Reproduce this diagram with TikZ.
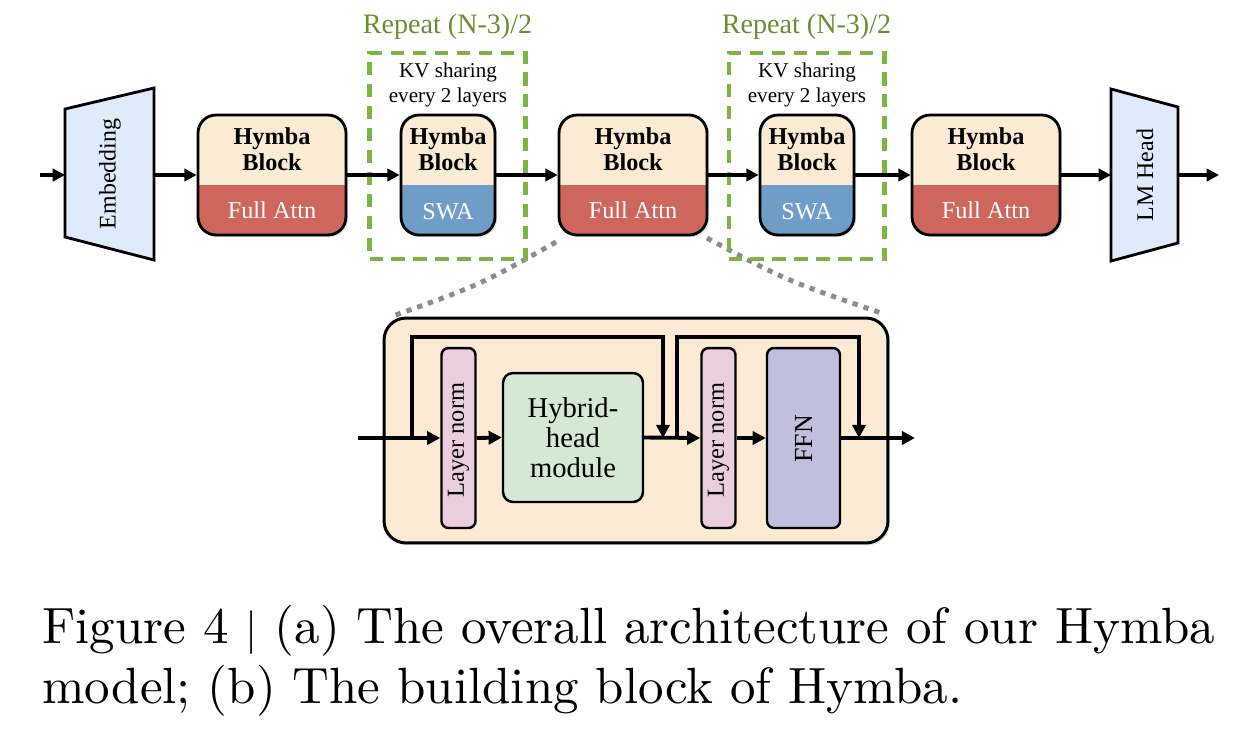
\documentclass[tikz,border=0pt]{standalone}
\usepackage{fontspec}
\newfontfamily\tnr{Liberation Serif}
\newfontfamily\capfont{lmroman10-regular.otf}
\usetikzlibrary{arrows.meta,shadows}
\definecolor{cream}{RGB}{251,235,213}
\definecolor{attred}{RGB}{206,102,94}
\definecolor{swablue}{RGB}{110,158,200}
\definecolor{embblue}{RGB}{223,234,251}
\definecolor{dgreen}{RGB}{122,182,64}
\definecolor{tgreen}{RGB}{112,140,48}
\definecolor{lnpink}{RGB}{234,205,222}
\definecolor{hhgreen}{RGB}{213,232,212}
\definecolor{ffnlav}{RGB}{194,190,221}
\definecolor{zgray}{RGB}{140,140,140}
\tikzset{
  arr/.style={line width=1.9pt,-{Triangle[length=7pt,width=7pt]}},
  parr/.style={line width=2.2pt,-{Triangle[length=7.5pt,width=7.5pt]}},
  hblock/.style={draw=black,line width=1.6pt,fill=cream,rounded corners=0.36cm,
    minimum height=2.4cm,inner sep=0pt,
    drop shadow={opacity=0.25,shadow xshift=1.2pt,shadow yshift=-1.2pt}},
  wideblk/.style={minimum width=2.96cm},
  narrowblk/.style={minimum width=1.88cm},
  fullpart/.style={path picture={\fill[attred,sharp corners] (path picture bounding box.south west) rectangle ([yshift=1cm]path picture bounding box.south east);}},
  swapart/.style={path picture={\fill[swablue,sharp corners] (path picture bounding box.south west) rectangle ([yshift=1cm]path picture bounding box.south east);}},
  btitle/.style={font=\tnr\bfseries\fontsize{13.8}{14.7}\selectfont,align=center,inner sep=0pt},
  blabel/.style={font=\tnr\fontsize{13.8}{15}\selectfont,text=white,inner sep=0pt},
  trap/.style={draw=black,line width=1.6pt,fill=embblue,line join=miter},
  traptext/.style={font=\tnr\fontsize{13.6}{15}\selectfont,rotate=90,inner sep=0pt},
  gbox/.style={draw=dgreen,line width=2.3pt,dash pattern=on 7.5pt off 5pt,minimum width=3.12cm,minimum height=4.12cm,inner sep=0pt},
  reptext/.style={font=\tnr\fontsize{16}{18}\selectfont,text=tgreen,inner sep=0pt},
  kvtext/.style={font=\tnr\fontsize{12}{14.2}\selectfont,align=center,inner sep=0pt},
  zline/.style={draw=zgray,line width=2.8pt,dash pattern=on 3pt off 3.5pt},
  panelbox/.style={draw=black,line width=1.7pt,fill=cream,rounded corners=0.44cm,minimum width=10.08cm,minimum height=4.5cm,
    drop shadow={opacity=0.25,shadow xshift=1.2pt,shadow yshift=-1.2pt}},
  lnbox/.style={draw=black,line width=1.4pt,fill=lnpink,rounded corners=0.14cm,minimum width=0.68cm,minimum height=3.6cm,inner sep=0pt},
  lntext/.style={font=\tnr\fontsize{13.9}{15}\selectfont,rotate=90,inner sep=0pt},
  ffntext/.style={font=\tnr\fontsize{14.8}{16}\selectfont,rotate=90,inner sep=0pt},
  hhbox/.style={draw=black,line width=1.4pt,fill=hhgreen,rounded corners=0.2cm,minimum width=2.8cm,minimum height=2.58cm,
    font=\tnr\fontsize{16.3}{17}\selectfont,align=center,inner sep=0pt},
  ffnbox/.style={draw=black,line width=1.4pt,fill=ffnlav,rounded corners=0.14cm,minimum width=1.46cm,minimum height=3.6cm,inner sep=0pt},
  captext/.style={font=\capfont\fontsize{29}{35}\selectfont,inner sep=0pt,anchor=base west},
}
\begin{document}
\begin{tikzpicture}[x=0.02cm,y=-0.02cm]
\useasboundingbox (0,0) rectangle (1248,728);
% gray zoom lines
\coordinate (zA) at (556,242);
\coordinate (zB) at (390,317);
\coordinate (zC) at (707,238);
\coordinate (zD) at (884,314);
\draw[zline] (zA) .. controls (480,285) .. (zB);
\draw[zline] (zC) .. controls (785,280) .. (zD);
% green dashed boxes
\node[gbox] (g1) at (447.5,156) {};
\node[gbox] (g2) at (806.5,156) {};
\node[reptext] (r1) at (447.5,27) {Repeat (N-3)/2};
\node[reptext] (r2) at (806.5,27) {Repeat (N-3)/2};
\node[kvtext] (kv1) at (448,85) {KV sharing\\every 2 layers};
\node[kvtext] (kv2) at (807,85) {KV sharing\\every 2 layers};
% embedding and LM head
\draw[trap] (65,109) -- (154,88) -- (154,260) -- (65,237) -- cycle;
\node[traptext] (emb) at (110,174) {Embedding};
\draw[trap] (1111,89) -- (1178,107) -- (1178,243) -- (1111,261) -- cycle;
\node[traptext] (lm) at (1145,175) {LM Head};
\coordinate (in0) at (40,175);
\coordinate (embL) at (65,175);
\coordinate (embR) at (154,175);
\coordinate (lmL) at (1111,175);
\coordinate (lmR) at (1178,175);
\coordinate (out0) at (1219,175);
% blocks
\node[hblock,wideblk,fullpart] (b1) at (272,175) {};
\node[hblock,narrowblk,swapart] (b2) at (448,175) {};
\node[hblock,wideblk,fullpart] (b3) at (633,175) {};
\node[hblock,narrowblk,swapart] (b4) at (807,175) {};
\node[hblock,wideblk,fullpart] (b5) at (986,175) {};
\foreach \n/\x in {1/272,2/448,3/633,4/807,5/986}{
  \node[btitle] (t\n) at (\x,149) {Hymba\\Block};
}
\node[blabel] (a1) at (272,210) {Full Attn};
\node[blabel] (a2) at (448,212) {SWA};
\node[blabel] (a3) at (633,210) {Full Attn};
\node[blabel] (a4) at (807,212) {SWA};
\node[blabel] (a5) at (986,210) {Full Attn};
% top arrows
\draw[arr] (in0) -- (embL);
\draw[arr] (embR) -- (b1.west);
\draw[arr] (b1.east) -- (b2.west);
\draw[arr] (b2.east) -- (b3.west);
\draw[arr] (b3.east) -- (b4.west);
\draw[arr] (b4.east) -- (b5.west);
\draw[arr] (b5.east) -- (lmL);
\draw[arr] (lmR) -- (out0);
% panel
\node[panelbox] (panel) at (636,430.5) {};
\node[lnbox] (ln1) at (458.5,438) {};
\node[lntext] (ln1t) at (458.5,440) {Layer norm};
\node[hhbox] (hh) at (573,437.5) {Hybrid-\\head\\module};
\node[lnbox] (ln2) at (718.5,438) {};
\node[lntext] (ln2t) at (718.5,440) {Layer norm};
\node[ffnbox] (ffn) at (803.5,438) {};
\node[ffntext] (ffnt) at (803.5,439) {FFN};
\coordinate (pin) at (358,438);
\coordinate (j1) at (412,438);
\coordinate (t1) at (663,337);
\coordinate (m1) at (663,438);
\coordinate (j2) at (677,438);
\coordinate (t2) at (859,337);
\coordinate (m2) at (859,438);
\coordinate (pout) at (915,438);
\draw[parr] (pin) -- (ln1.west);
\draw[parr] (ln1.east) -- (hh.west);
\draw[parr] (hh.east) -- (ln2.west);
\draw[parr] (ln2.east) -- (ffn.west);
\draw[parr] (ffn.east) -- (pout);
\draw[parr] (j1) |- (t1) -- (m1);
\draw[parr] (j2) |- (t2) -- (m2);
% caption
\node[captext] (cap1) at (42,643) {Figure 4 $|$ (a) The overall architecture of our Hymba};
\node[captext] (cap2) at (42,703) {model; (b) The building block of Hymba.};
\end{tikzpicture}
\end{document}
